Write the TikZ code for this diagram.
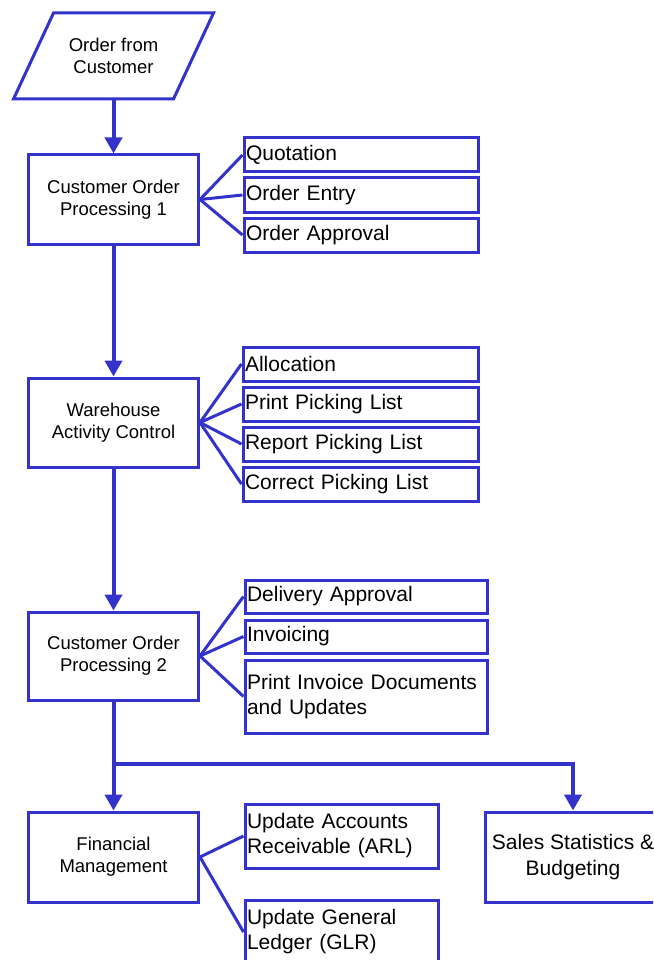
\documentclass[tikz,border=0pt]{standalone}
\usepackage{fontspec}
\setmainfont{Liberation Sans}
\usetikzlibrary{arrows.meta}
\definecolor{fcblue}{RGB}{51,51,204}
\begin{document}
\begin{tikzpicture}[x=1pt,y=1pt,
  box/.style={draw=fcblue, line width=3pt, rectangle, minimum width=170pt, minimum height=89pt, align=center, font=\fontsize{18.5}{22}\selectfont, inner sep=2pt},
  sub/.style={draw=fcblue, line width=3pt, rectangle, minimum height=34pt, inner xsep=2pt, inner ysep=0pt, font=\fontsize{21}{25}\selectfont, align=left},
  fan/.style={draw=fcblue, line width=3pt},
  arr/.style={draw=fcblue, line width=4pt, -{Triangle[width=17pt,length=16pt]}},
  conn/.style={draw=fcblue, line width=4pt}]
\useasboundingbox (0,0) rectangle (653,-960);
\clip (0,0) rectangle (653,-960);
\fill[white] (0,0) rectangle (653,-960);

% input (parallelogram)
\node[minimum width=200pt, minimum height=86pt, outer sep=0pt, inner sep=0pt,
      align=center, font=\fontsize{18.5}{22}\selectfont]
      (order) at (113.5,-56) {Order from\\Customer};
\draw[fcblue, line width=3pt, line join=miter]
  ([xshift=40pt]order.north west) -- (order.north east)
  -- ([xshift=-40pt]order.south east) -- (order.south west) -- cycle;

% Customer Order Processing 1
\node[box] (cp1) at (113.5,-199.5) {Customer Order\\Processing 1};
\node[sub, minimum width=234pt, text width=230pt] (q)  at (361,-155) {Quotation};
\node[sub, minimum width=234pt, text width=230pt] (oe) at (361,-195) {Order Entry};
\node[sub, minimum width=234pt, text width=230pt] (oa) at (361,-235) {Order Approval};

% Warehouse
\node[box] (wh) at (113.5,-422.5) {Warehouse\\Activity Control};
\node[sub, minimum width=235pt, text width=231pt] (al)  at (360.5,-364) {Allocation};
\node[sub, minimum width=235pt, text width=231pt] (ppl) at (360.5,-404) {Print Picking List};
\node[sub, minimum width=235pt, text width=231pt] (rpl) at (360.5,-444) {Report Picking List};
\node[sub, minimum width=235pt, text width=231pt] (cpl) at (360.5,-484) {Correct Picking List};

% Customer Order Processing 2
\node[box, minimum height=88pt] (cp2) at (113.5,-656) {Customer Order\\Processing 2};
\node[sub, minimum width=242pt, text width=238pt, minimum height=33pt] (da)  at (366,-596.5) {Delivery Approval};
\node[sub, minimum width=242pt, text width=238pt, minimum height=33pt] (inv) at (366,-636.5) {Invoicing};
\node[sub, minimum width=242pt, text width=238pt, minimum height=73pt] (pid) at (366,-696.5) {Print Invoice Documents\\and Updates};

% Financial management and sales statistics
\node[box, minimum height=90pt] (fm) at (113.5,-857) {Financial\\Management};
\node[sub, minimum width=193pt, text width=189pt, minimum height=64pt] (ar) at (341.5,-836) {Update Accounts\\Receivable (ARL)};
\node[sub, minimum width=193pt, text width=189pt, minimum height=64pt] (gl) at (341.5,-932) {Update General\\Ledger (GLR)};
\node[box, minimum width=176pt, minimum height=90pt, font=\fontsize{21}{26}\selectfont] (ss) at (573,-857) {Sales Statistics \&\\Budgeting};

% main flow
\draw[arr] (order.south) -- (cp1.north);
\draw[arr] (cp1.south) -- (wh.north);
\draw[arr] (wh.south) -- (cp2.north);
\coordinate (j) at (113.5,-764);
\draw[conn] (cp2.south) -- (j);
\draw[arr] (j) -- (fm.north);
\draw[arr] (j) -| (ss.north);

% fans
\foreach \t in {q,oe,oa} \draw[fan] (cp1.east) -- (\t.west);
\foreach \t in {al,ppl,rpl,cpl} \draw[fan] (wh.east) -- (\t.west);
\foreach \t in {da,inv,pid} \draw[fan] (cp2.east) -- (\t.west);
\foreach \t in {ar,gl} \draw[fan] (fm.east) -- (\t.west);
\end{tikzpicture}
\end{document}
